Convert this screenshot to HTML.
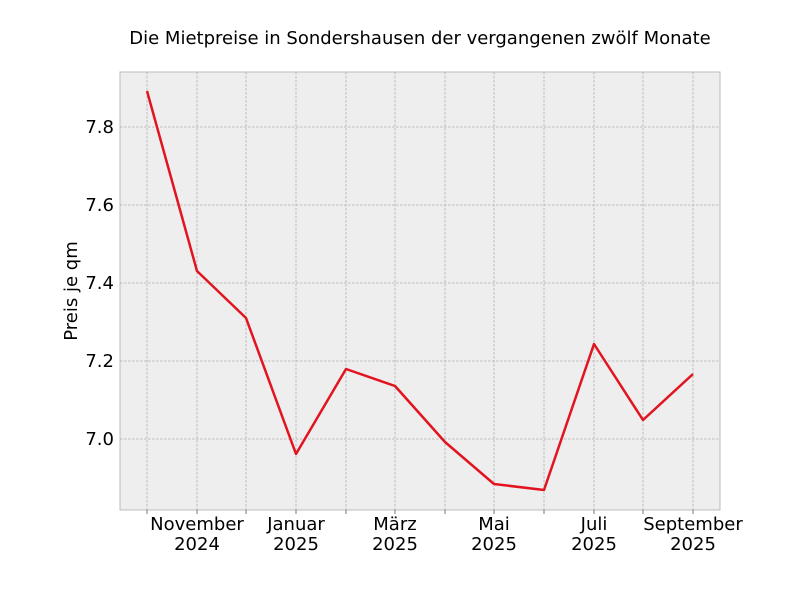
<!DOCTYPE html>
<html><head><meta charset="utf-8"><style>body{margin:0;background:#fff}svg{display:block}text{font-family:"DejaVu Sans","Liberation Sans",sans-serif;fill:#000}</style></head><body>
<svg width="800" height="600" xmlns="http://www.w3.org/2000/svg">
<rect width="800" height="600" fill="#fff"/>
<rect x="120" y="72" width="600" height="438" fill="#eeeeee" stroke="#bcbcbc" stroke-width="1"/>
<g stroke="#b0b0b0" stroke-width="0.8" stroke-dasharray="2.5,1.5">
<line x1="147" y1="72" x2="147" y2="510"/><line x1="197" y1="72" x2="197" y2="510"/><line x1="246" y1="72" x2="246" y2="510"/><line x1="296" y1="72" x2="296" y2="510"/><line x1="346" y1="72" x2="346" y2="510"/><line x1="395" y1="72" x2="395" y2="510"/><line x1="445" y1="72" x2="445" y2="510"/><line x1="494" y1="72" x2="494" y2="510"/><line x1="544" y1="72" x2="544" y2="510"/><line x1="594" y1="72" x2="594" y2="510"/><line x1="643" y1="72" x2="643" y2="510"/><line x1="693" y1="72" x2="693" y2="510"/>
<line x1="120" y1="127" x2="720" y2="127"/><line x1="120" y1="205" x2="720" y2="205"/><line x1="120" y1="283" x2="720" y2="283"/><line x1="120" y1="361" x2="720" y2="361"/><line x1="120" y1="439" x2="720" y2="439"/>
</g>
<g stroke="#555" stroke-width="0.8">
<line x1="147" y1="510" x2="147" y2="514"/><line x1="197" y1="510" x2="197" y2="514"/><line x1="246" y1="510" x2="246" y2="514"/><line x1="296" y1="510" x2="296" y2="514"/><line x1="346" y1="510" x2="346" y2="514"/><line x1="395" y1="510" x2="395" y2="514"/><line x1="445" y1="510" x2="445" y2="514"/><line x1="494" y1="510" x2="494" y2="514"/><line x1="544" y1="510" x2="544" y2="514"/><line x1="594" y1="510" x2="594" y2="514"/><line x1="643" y1="510" x2="643" y2="514"/><line x1="693" y1="510" x2="693" y2="514"/>
</g>
<polyline fill="none" stroke="#e2141f" stroke-width="2.5" stroke-linejoin="round" points="147,91 197,271 246,318 296,454 346,369 395,386 445,442 494,484 544,490 594,344 643,420 693,374"/>
<g font-size="18" text-anchor="end">
<text x="114" y="133">7.8</text><text x="114" y="211">7.6</text><text x="114" y="289">7.4</text><text x="114" y="367">7.2</text><text x="114" y="445">7.0</text>
</g>
<g font-size="18" text-anchor="middle">
<text x="197" y="530">November</text><text x="197" y="550">2024</text>
<text x="296" y="530">Januar</text><text x="296" y="550">2025</text>
<text x="395" y="530">März</text><text x="395" y="550">2025</text>
<text x="494" y="530">Mai</text><text x="494" y="550">2025</text>
<text x="594" y="530">Juli</text><text x="594" y="550">2025</text>
<text x="693" y="530">September</text><text x="693" y="550">2025</text>
</g>
<text x="77" y="291" font-size="18" text-anchor="middle" transform="rotate(-90 77 291)">Preis je qm</text>
<text x="420" y="44" font-size="18" text-anchor="middle">Die Mietpreise in Sondershausen der vergangenen zwölf Monate</text>
</svg>
</body></html>
